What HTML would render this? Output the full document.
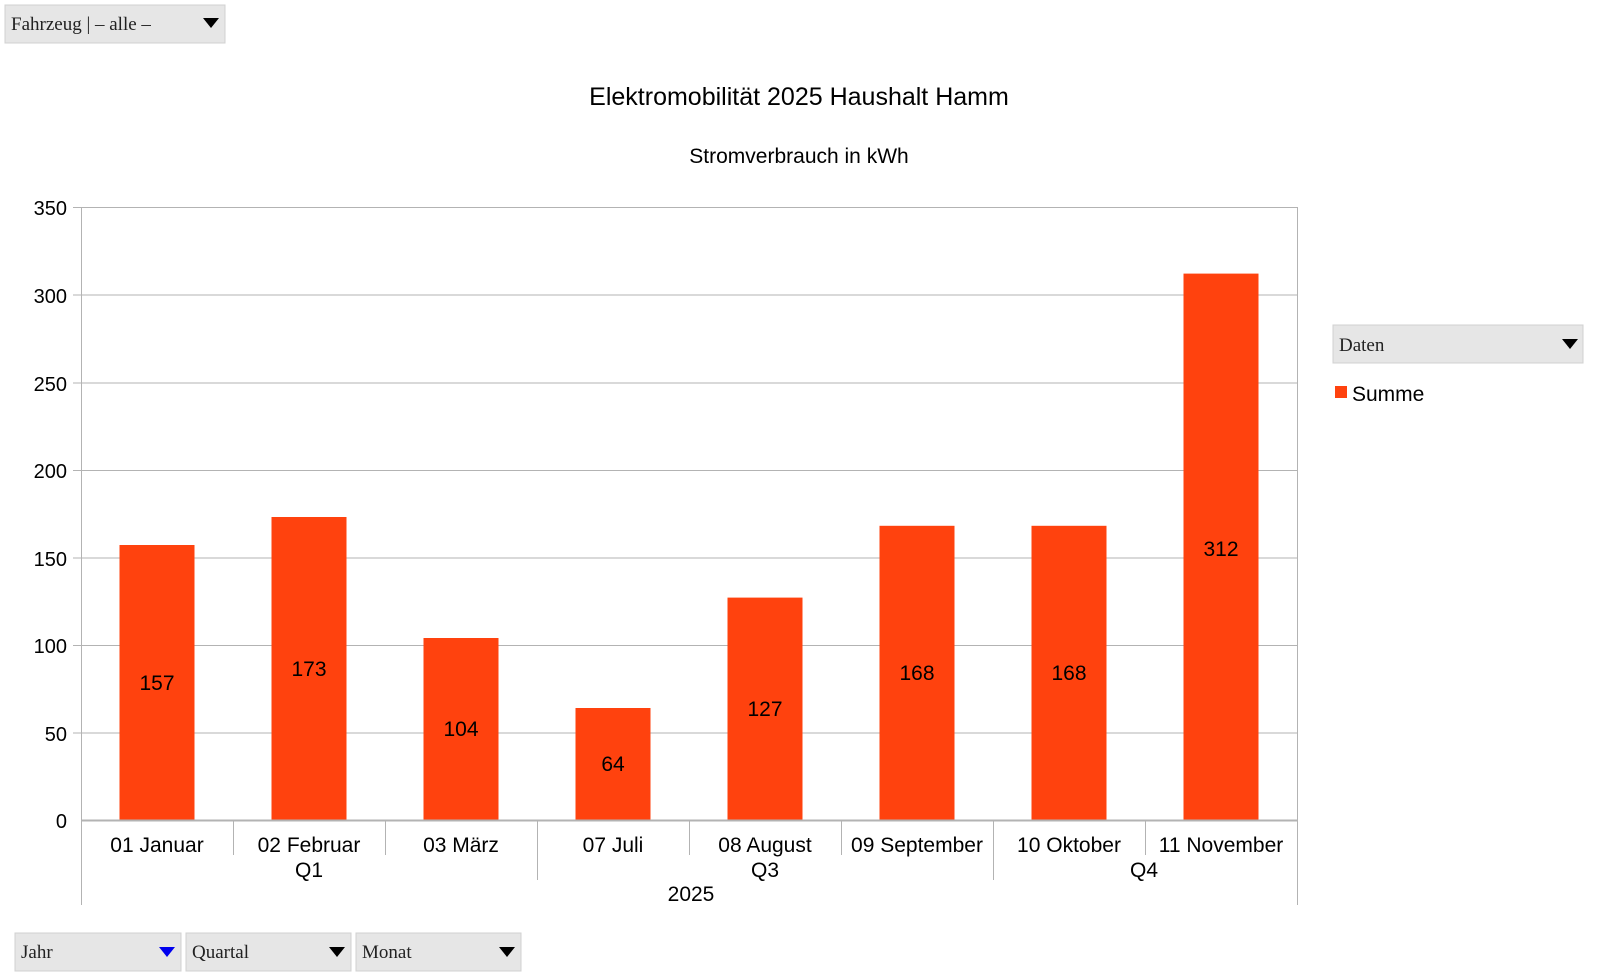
<!DOCTYPE html>
<html><head><meta charset="utf-8"><style>
body{margin:0;background:#fff;width:1600px;height:977px;overflow:hidden}
svg{display:block}
</style></head><body>
<svg width="1600" height="977" xmlns="http://www.w3.org/2000/svg" font-family="Liberation Sans, sans-serif">
<rect width="1600" height="977" fill="#fff"/>
<rect x="5" y="5" width="220" height="38" fill="#e6e6e6" stroke="#d0d0d0"/>
<text x="11" y="30" font-family="Liberation Serif, serif" font-size="19" fill="#222">Fahrzeug | – alle –</text>
<path d="M203 18 L219 18 L211 28 Z" fill="#000"/>
<text x="799" y="105" font-size="25" text-anchor="middle" fill="#000">Elektromobilität 2025 Haushalt Hamm</text>
<text x="799" y="163" font-size="21" text-anchor="middle" fill="#000">Stromverbrauch in kWh</text>
<g stroke="#b3b3b3" stroke-width="1">
<line x1="73" y1="207.5" x2="1297" y2="207.5"/>
<line x1="73" y1="295" x2="1297" y2="295"/>
<line x1="73" y1="383" x2="1297" y2="383"/>
<line x1="73" y1="470.5" x2="1297" y2="470.5"/>
<line x1="73" y1="558" x2="1297" y2="558"/>
<line x1="73" y1="645.5" x2="1297" y2="645.5"/>
<line x1="73" y1="733" x2="1297" y2="733"/>
<line x1="81.5" y1="207" x2="81.5" y2="905"/>
<line x1="1297.5" y1="207" x2="1297.5" y2="905"/>
<line x1="233.5" y1="820" x2="233.5" y2="855"/>
<line x1="385.5" y1="820" x2="385.5" y2="855"/>
<line x1="537.5" y1="820" x2="537.5" y2="880"/>
<line x1="689.5" y1="820" x2="689.5" y2="855"/>
<line x1="841.5" y1="820" x2="841.5" y2="855"/>
<line x1="993.5" y1="820" x2="993.5" y2="880"/>
<line x1="1145.5" y1="820" x2="1145.5" y2="855"/>
</g>
<g fill="#000" font-size="20" text-anchor="end">
<text x="67" y="215">350</text><text x="67" y="303">300</text><text x="67" y="391">250</text>
<text x="67" y="478">200</text><text x="67" y="566">150</text><text x="67" y="653">100</text>
<text x="67" y="741">50</text><text x="67" y="828">0</text>
</g>
<g fill="#ff420e">
<rect x="119.5" y="545" width="75" height="275"/>
<rect x="271.5" y="517" width="75" height="303"/>
<rect x="423.5" y="638" width="75" height="182"/>
<rect x="575.5" y="708" width="75" height="112"/>
<rect x="727.5" y="597.6" width="75" height="222.4"/>
<rect x="879.5" y="525.8" width="75" height="294.2"/>
<rect x="1031.5" y="525.8" width="75" height="294.2"/>
<rect x="1183.5" y="273.6" width="75" height="546.4"/>
</g>
<line x1="81" y1="820.5" x2="1297" y2="820.5" stroke="#b3b3b3" stroke-width="2"/>
<g fill="#000" font-size="21" text-anchor="middle">
<text x="157" y="690">157</text><text x="309" y="676">173</text><text x="461" y="736">104</text>
<text x="613" y="771">64</text><text x="765" y="716">127</text><text x="917" y="680">168</text>
<text x="1069" y="680">168</text><text x="1221" y="556">312</text>
</g>
<g fill="#000" font-size="21" text-anchor="middle">
<text x="157" y="852">01 Januar</text><text x="309" y="852">02 Februar</text><text x="461" y="852">03 März</text>
<text x="613" y="852">07 Juli</text><text x="765" y="852">08 August</text><text x="917" y="852">09 September</text>
<text x="1069" y="852">10 Oktober</text><text x="1221" y="852">11 November</text>
<text x="309" y="877">Q1</text><text x="765" y="877">Q3</text><text x="1144" y="877">Q4</text>
<text x="691" y="901">2025</text>
</g>
<rect x="1333" y="325" width="250" height="38" fill="#e6e6e6" stroke="#d0d0d0"/>
<text x="1339" y="351" font-family="Liberation Serif, serif" font-size="19" fill="#222">Daten</text>
<path d="M1562 339 L1578 339 L1570 349 Z" fill="#000"/>
<rect x="1335" y="386" width="12" height="12" fill="#ff420e"/>
<text x="1352" y="401" font-size="21" fill="#000">Summe</text>
<rect x="15" y="933" width="166" height="38" fill="#e6e6e6" stroke="#d0d0d0"/>
<text x="21" y="958" font-family="Liberation Serif, serif" font-size="19" fill="#222">Jahr</text>
<path d="M159 947 L175 947 L167 957 Z" fill="#0000ee"/>
<rect x="186" y="933" width="165" height="38" fill="#e6e6e6" stroke="#d0d0d0"/>
<text x="192" y="958" font-family="Liberation Serif, serif" font-size="19" fill="#222">Quartal</text>
<path d="M329 947 L345 947 L337 957 Z" fill="#000"/>
<rect x="356" y="933" width="165" height="38" fill="#e6e6e6" stroke="#d0d0d0"/>
<text x="362" y="958" font-family="Liberation Serif, serif" font-size="19" fill="#222">Monat</text>
<path d="M499 947 L515 947 L507 957 Z" fill="#000"/>
</svg>
</body></html>
